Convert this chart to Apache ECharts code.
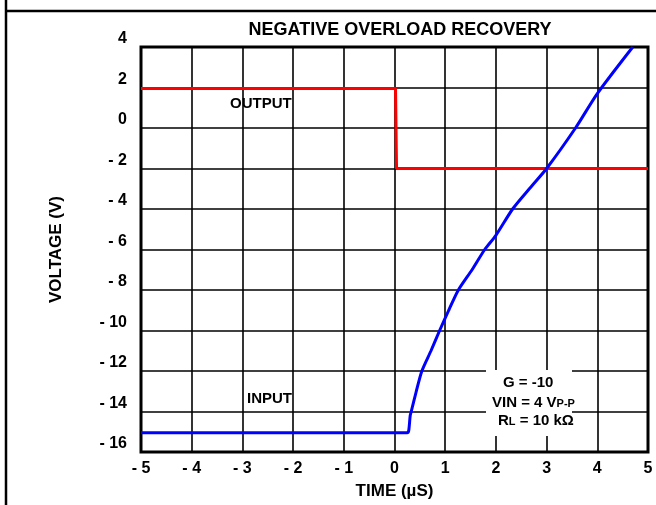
<!DOCTYPE html>
<html>
<head>
<meta charset="utf-8">
<script src="https://cdn.jsdelivr.net/npm/echarts@6/dist/echarts.min.js"></script>
<style>
  html, body { margin: 0; padding: 0; background: #fff; }
  #chart { width: 656px; height: 505px; }
</style>
</head>
<body>
<div id="chart"></div>
<script>
// time axis (µs) and voltage values
var outputTime = [-5, 0.02, 0.04, 5];
var outputVolt = [1.95, 1.95, -2.0, -2.0];

var inputTime = [-5, 0.25, 0.28, 0.31, 0.33, 0.43, 0.54, 0.72, 0.89, 1.07, 1.26, 1.53, 1.78, 2.0, 2.33, 2.66, 3.0, 3.57, 4.0, 4.7];
var inputVolt = [-15.05, -15.05, -14.95, -14.2, -14.0, -13.0, -12.0, -11.0, -10.0, -9.0, -8.0, -7.0, -6.0, -5.3, -4.0, -3.0, -2.0, 0.0, 1.7, 4.0];

var xTicks = [-5, -4, -3, -2, -1, 0, 1, 2, 3, 4, 5];
var yTicks = [-16, -14, -12, -10, -8, -6, -4, -2, 0, 2, 4];

var FONT = "'Liberation Sans', Arial, sans-serif";

function zip(a, b) {
  var out = [];
  for (var i = 0; i < a.length; i++) out.push([a[i], b[i]]);
  return out;
}
// "- 2" style for negatives, like the datasheet
function tickFmt(v) {
  return v < 0 ? '- ' + Math.abs(v) : String(v);
}

var chart = echarts.init(document.getElementById('chart'));

var option = {
  animation: false,
  backgroundColor: '#fff',
  title: {
    text: 'NEGATIVE OVERLOAD RECOVERY',
    left: 395, top: 16,
    textAlign: 'center',
    textStyle: { fontFamily: FONT, fontSize: 18, fontWeight: 'bold', color: '#000' }
  },
  grid: {
    left: 141, right: 8, top: 47, bottom: 52,
    show: true, borderColor: '#000', borderWidth: 3, backgroundColor: 'transparent'
  },
  xAxis: {
    type: 'value',
    min: xTicks[0], max: xTicks[xTicks.length - 1], interval: 1,
    name: 'TIME (µS)',
    nameLocation: 'middle', nameGap: 31,
    nameTextStyle: { fontFamily: FONT, fontSize: 17, fontWeight: 'bold', color: '#000' },
    axisLine: { show: false },
    axisTick: { show: false },
    axisLabel: {
      margin: 9, formatter: tickFmt,
      fontFamily: FONT, fontSize: 16, fontWeight: 'bold', color: '#000'
    },
    splitLine: { show: true, lineStyle: { color: '#000', width: 1.6 } }
  },
  yAxis: {
    type: 'value',
    min: yTicks[0], max: yTicks[yTicks.length - 1], interval: 2,
    name: 'VOLTAGE (V)',
    nameLocation: 'middle', nameGap: 76,
    nameTextStyle: { fontFamily: FONT, fontSize: 17, fontWeight: 'bold', color: '#000' },
    axisLine: { show: false },
    axisTick: { show: false },
    axisLabel: {
      margin: 14, formatter: tickFmt, verticalAlign: 'bottom',
      fontFamily: FONT, fontSize: 16, fontWeight: 'bold', color: '#000'
    },
    splitLine: { show: true, lineStyle: { color: '#000', width: 1.6 } }
  },
  series: [
    {
      name: 'OUTPUT', type: 'line', data: zip(outputTime, outputVolt),
      showSymbol: false, lineStyle: { color: '#ff0000', width: 3 }, z: 3
    },
    {
      name: 'INPUT', type: 'line', data: zip(inputTime, inputVolt),
      smooth: 0.25,
      showSymbol: false, lineStyle: { color: '#0000ff', width: 3 }, z: 4
    }
  ],
  graphic: [
    // page frame
    { type: 'line', z: 100, shape: { x1: 6, y1: 0, x2: 6, y2: 505 }, style: { stroke: '#000', lineWidth: 2.5 } },
    { type: 'line', z: 100, shape: { x1: 6, y1: 11, x2: 656, y2: 11 }, style: { stroke: '#000', lineWidth: 2.5 } },
    // trace labels
    { type: 'text', z: 100, left: 230, top: 96,
      style: { text: 'OUTPUT', font: 'bold 15px ' + FONT, fill: '#000' } },
    { type: 'text', z: 100, left: 247, top: 391,
      style: { text: 'INPUT', font: 'bold 15px ' + FONT, fill: '#000' } },
    // conditions box
    { type: 'rect', z: 100, shape: { x: 486, y: 370, width: 86, height: 66 }, style: { fill: '#fff' } },
    { type: 'text', z: 101, left: 503, top: 375,
      style: { text: 'G = -10', font: 'bold 15px ' + FONT, fill: '#000' } },
    { type: 'text', z: 101, left: 492, top: 395,
      style: {
        text: '{a|VIN = 4 V}{s|P-P}',
        rich: {
          a: { font: 'bold 15px ' + FONT, fill: '#000' },
          s: { font: 'bold 11px ' + FONT, fill: '#000', verticalAlign: 'bottom', padding: [0, 0, 1, 0] }
        }
      } },
    { type: 'text', z: 101, left: 498, top: 413,
      style: {
        text: '{a|R}{s|L}{a| = 10 kΩ}',
        rich: {
          a: { font: 'bold 15px ' + FONT, fill: '#000' },
          s: { font: 'bold 11px ' + FONT, fill: '#000', verticalAlign: 'bottom', padding: [0, 0, 1, 0] }
        }
      } }
  ]
};

chart.setOption(option);
</script>
</body>
</html>
